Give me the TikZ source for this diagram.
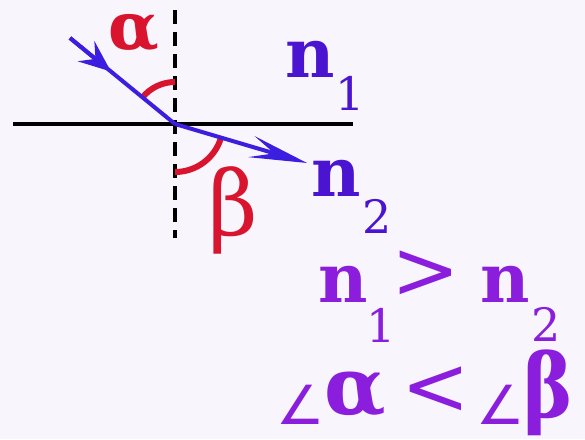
\documentclass[tikz,border=0pt]{standalone}
\usepackage{fontspec}
\setmainfont{DejaVu Serif}
\newfontfamily\symf{DejaVu Sans}
\usetikzlibrary{arrows.meta,calc}
\definecolor{bg}{HTML}{F8F6FC}
\definecolor{redc}{HTML}{D8142E}
\definecolor{rayc}{HTML}{3C1EE0}
\definecolor{bluet}{HTML}{4A14D0}
\definecolor{purp}{HTML}{8A1EDC}
\tikzset{
  glyph/.style={inner sep=0pt, anchor=center},
  nbig/.style={glyph, font=\fontsize{68}{70}\selectfont\bfseries},
  nsub/.style={glyph, font=\fontsize{46}{48}\selectfont},
  relsym/.style={glyph, purp, font=\fontsize{82}{84}\selectfont},
  angsym/.style={glyph, purp, font=\symf\fontsize{54}{56}\selectfont},
  ray/.style={rayc, line width=4pt},
  anglearc/.style={redc, line width=6pt},
}
\begin{document}
\begin{tikzpicture}[x=1pt,y=-1pt]
\fill[bg] (0,0) rectangle (585,439);
\useasboundingbox (0,0) rectangle (585,439);
% geometry
\coordinate (O) at (175,124);
\coordinate (L) at (13,124);
\coordinate (R) at (353,124);
\coordinate (T) at (175,10);
\coordinate (B) at (175,238);
\coordinate (S) at (70,38);
\coordinate (E) at (307,163);
\draw[black, line width=4pt] (L) -- (R);
\draw[black, line width=4pt, dash pattern=on 14pt off 8pt] (T) -- (B);
% angle arcs
\draw[anglearc] (O) ++(-90:42) arc[start angle=-90, end angle=-140.7, radius=42];
\draw[anglearc] (O) ++(90:48) arc[start angle=90, end angle=17.5, radius=48];
% rays
\draw[ray] (S) -- (O);
\draw[ray, -{Stealth[length=32pt, width=26pt, inset=12pt]}] (S) -- ($(S)!0.39!(O)$);
\draw[ray, -{Stealth[length=58pt, width=22pt, inset=24pt]}] (O) -- (E);
% labels
\node[glyph, redc, font=\fontsize{66}{68}\selectfont\bfseries] (alpha) at (134,33) {α};
\node[glyph, redc, font=\fontsize{90}{92}\selectfont] (beta) at (233,210) {\scalebox{0.95}[1]{β}};
\node[nbig, bluet] (n1) at (310,59) {n};
\node[nsub, bluet] (s1) at (350,93) {1};
\node[nbig, bluet] (n2) at (336,178) {n};
\node[nsub, bluet] (s2) at (377,216) {2};
% relations
\node[nbig, purp] (bn1) at (343,284) {n};
\node[nsub, purp] (bs1) at (381,325) {1};
\node[relsym] (gt) at (426,275) {>};
\node[nbig, purp] (bn2) at (505,284) {n};
\node[nsub, purp] (bs2) at (546,324) {2};
\node[angsym] (ang1) at (301,405) {∠};
\node[glyph, purp, font=\fontsize{80}{82}\selectfont\bfseries] (ba) at (355,395) {α};
\node[relsym] (lt) at (436,391) {<};
\node[angsym] (ang2) at (501,405) {∠};
\node[glyph, purp, font=\fontsize{88}{90}\selectfont\bfseries] (bb) at (548,393) {\scalebox{0.85}[1]{β}};
\end{tikzpicture}
\end{document}
